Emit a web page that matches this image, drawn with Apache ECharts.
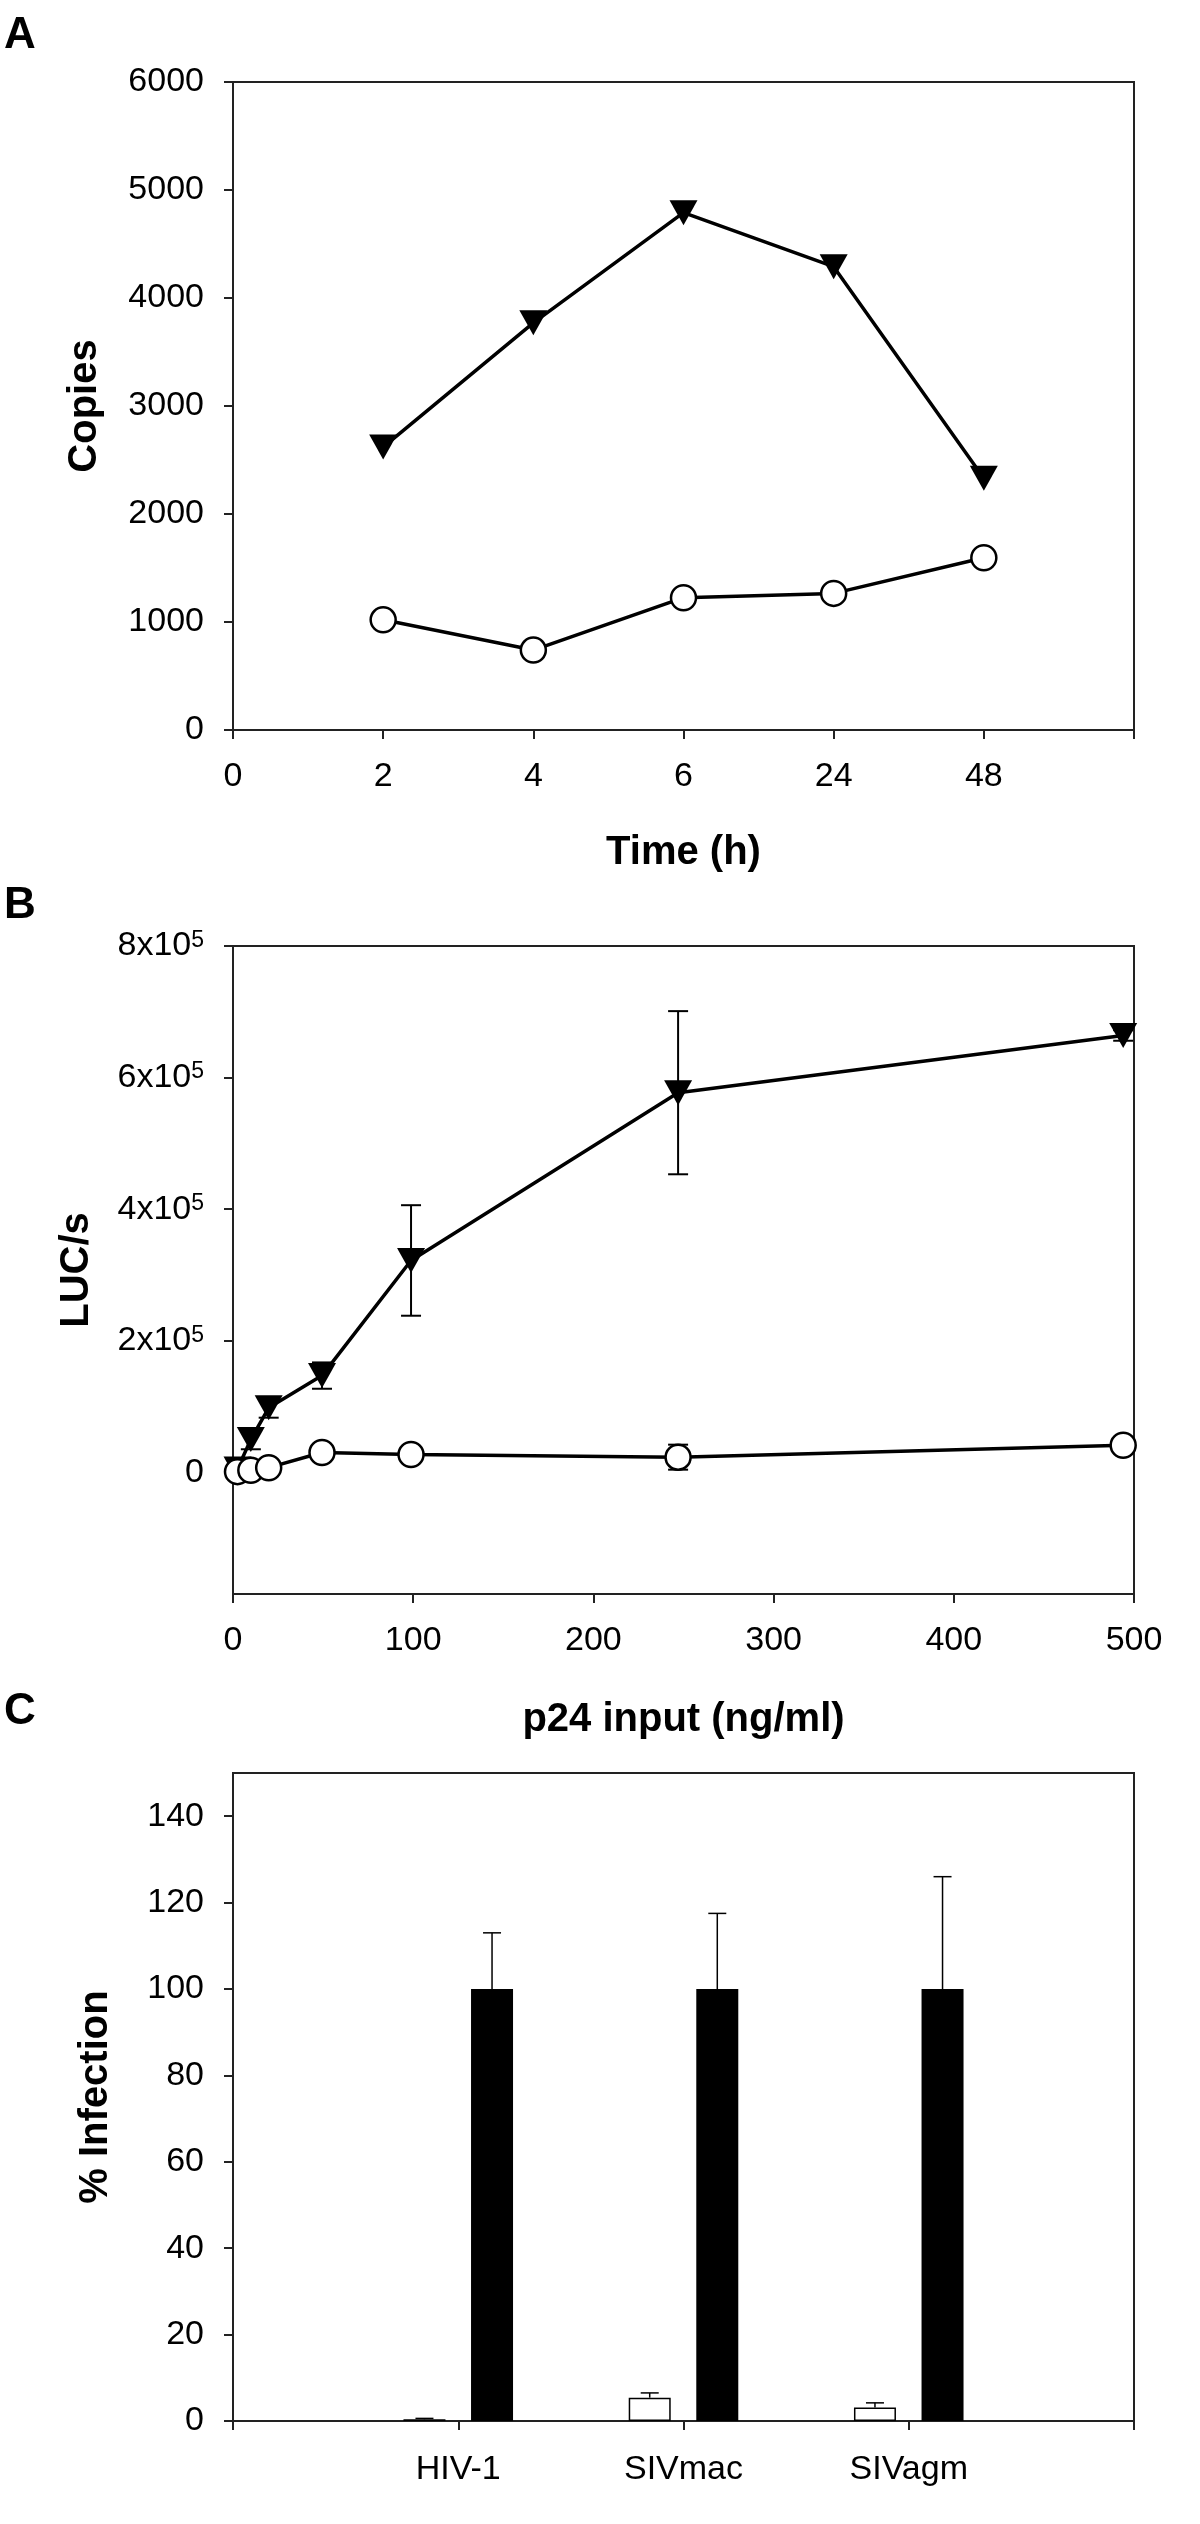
<!DOCTYPE html>
<html><head><meta charset="utf-8">
<script src="https://cdn.jsdelivr.net/npm/echarts@6/dist/echarts.min.js"></script>
<style>html,body{margin:0;padding:0;background:#fff;}#chart{width:1200px;height:2524px;}</style>
</head><body><div id="chart"></div>
<script>
// ---------- Panel A ----------
const timeLabels = ['0', '2', '4', '6', '24', '48', ''];
const timePoints = ['2', '4', '6', '24', '48'];
const copiesTriangle = [2620, 3770, 4790, 4290, 2330];
const copiesCircle = [1020, 740, 1225, 1265, 1595];

// ---------- Panel B ----------
const p24Input = [2.5, 9.9, 19.8, 49.4, 98.8, 247, 494];
const lucTriangle = [5000, 50000, 98000, 147000, 322000, 577000, 664000];
const lucTriangleErr = [3000, 15000, 15000, 20000, 84000, 124000, 8000];
const lucCircle = [1000, 3000, 7000, 30000, 27000, 23000, 41000];
const lucCircleErr = [1000, 2000, 3000, 6000, 4000, 19000, 5000];
const lucTickValues = [0, 200000, 400000, 600000, 800000];
const lucTickLabels = ['0', '2x10^5', '4x10^5', '6x10^5', '8x10^5'];

// ---------- Panel C ----------
const viruses = ['HIV-1', 'SIVmac', 'SIVagm'];
const openInfection = [0.4, 5.4, 3.1];
const openErr = [0.2, 1.1, 1.1];
const filledInfection = [100, 100, 100];
const filledErr = [13, 17.5, 26];
const infectionTicks = [0, 20, 40, 60, 80, 100, 120, 140];

const FONT = "'Liberation Sans', Arial, sans-serif";
const AX = '#222';
const labelStyle = { fontFamily: FONT, fontSize: 34, color: '#000' };
const nameStyle = { fontFamily: FONT, fontSize: 40, fontWeight: 'bold', color: '#000' };
const axisLine = { show: true, onZero: false, lineStyle: { color: AX, width: 2 } };
const axisTick = { show: true, inside: false, length: 9, lineStyle: { color: AX, width: 2 } };
const plain = v => String(v);

function errRender(capHalf, upOnly, lw) {
  return function (params, api) {
    const x = api.value(0), y = api.value(1), e = api.value(2);
    const top = api.coord([x, y + e]);
    const bot = api.coord([x, upOnly ? y : y - e]);
    const st = { stroke: '#000', lineWidth: lw };
    const ch = [
      { type: 'line', shape: { x1: top[0], y1: top[1], x2: bot[0], y2: bot[1] }, style: st },
      { type: 'line', shape: { x1: top[0] - capHalf, y1: top[1], x2: top[0] + capHalf, y2: top[1] }, style: st }
    ];
    if (!upOnly) ch.push({ type: 'line', shape: { x1: bot[0] - capHalf, y1: bot[1], x2: bot[0] + capHalf, y2: bot[1] }, style: st });
    return { type: 'group', children: ch };
  };
}

const triSym = { symbol: 'triangle', symbolRotate: 180, symbolSize: [28, 25], itemStyle: { color: '#000' } };
const cirSym = { symbol: 'circle', symbolSize: 25, itemStyle: { color: '#fff', borderColor: '#000', borderWidth: 2.5 } };
const lineSt = { color: '#000', width: 3.5 };

const barOffset = 0.15;

const option = {
  animation: false,
  backgroundColor: '#fff',
  graphic: [
    { type: 'text', left: 4, top: 14, style: { text: 'A', font: "bold 44px 'Liberation Sans', Arial, sans-serif", fill: '#000' } },
    { type: 'text', left: 4, top: 884, style: { text: 'B', font: "bold 44px 'Liberation Sans', Arial, sans-serif", fill: '#000' } },
    { type: 'text', left: 4, top: 1690, style: { text: 'C', font: "bold 44px 'Liberation Sans', Arial, sans-serif", fill: '#000' } }
  ],
  grid: [
    { left: 233, top: 82, width: 901, height: 648, show: true, borderColor: AX, borderWidth: 2, backgroundColor: 'transparent' },
    { left: 233, top: 946, width: 901, height: 648, show: true, borderColor: AX, borderWidth: 2, backgroundColor: 'transparent' },
    { left: 233, top: 1773, width: 901, height: 648, show: true, borderColor: AX, borderWidth: 2, backgroundColor: 'transparent' }
  ],
  xAxis: [
    { gridIndex: 0, type: 'category', data: timeLabels, boundaryGap: false,
      axisLine, axisTick: Object.assign({ interval: 0 }, axisTick),
      axisLabel: Object.assign({ interval: 0, margin: 30 }, labelStyle), splitLine: { show: false },
      name: 'Time (h)', nameLocation: 'middle', nameGap: 103, nameTextStyle: nameStyle },
    { gridIndex: 1, type: 'value', min: 0, max: 500, interval: 100,
      axisLine, axisTick, axisLabel: Object.assign({ margin: 30, formatter: plain }, labelStyle), splitLine: { show: false },
      name: 'p24 input (ng/ml)', nameLocation: 'middle', nameGap: 106, nameTextStyle: nameStyle },
    { gridIndex: 2, type: 'value', min: 0, max: 4, interval: 1,
      axisLine, axisTick,
      axisLabel: Object.assign({ margin: 32, formatter: v => (v >= 1 && v <= viruses.length && Number.isInteger(v)) ? viruses[v - 1] : '' }, labelStyle),
      splitLine: { show: false } }
  ],
  yAxis: [
    { gridIndex: 0, type: 'value', min: 0, max: 6000, interval: 1000,
      axisLine, axisTick, axisLabel: Object.assign({ margin: 29, formatter: plain }, labelStyle), splitLine: { show: false },
      name: 'Copies', nameLocation: 'middle', nameGap: 128, nameTextStyle: nameStyle },
    { gridIndex: 1, type: 'value', min: -185000, max: 800000,
      axisLine,
      axisTick: Object.assign({ customValues: lucTickValues }, axisTick),
      axisLabel: Object.assign({ margin: 29, customValues: lucTickValues,
        formatter: function (v) {
          const i = lucTickValues.indexOf(v);
          if (i < 0) return '';
          const s = lucTickLabels[i];
          if (s.indexOf('^') < 0) return s;
          const p = s.split('^');
          return '{b|' + p[0] + '}{s|' + p[1] + '}';
        },
        rich: { b: { fontFamily: FONT, fontSize: 34, color: '#000' }, s: { fontFamily: FONT, fontSize: 23, color: '#000', verticalAlign: 'top' } }
      }, labelStyle),
      splitLine: { show: false },
      name: 'LUC/s', nameLocation: 'middle', nameGap: 136, nameTextStyle: nameStyle },
    { gridIndex: 2, type: 'value', min: 0, max: 150,
      axisLine,
      axisTick: Object.assign({ customValues: infectionTicks }, axisTick),
      axisLabel: Object.assign({ margin: 29, customValues: infectionTicks, formatter: plain }, labelStyle),
      splitLine: { show: false },
      name: '% Infection', nameLocation: 'middle', nameGap: 117, nameTextStyle: nameStyle }
  ],
  series: [
    // Panel A
    Object.assign({ type: 'line', xAxisIndex: 0, yAxisIndex: 0, lineStyle: lineSt, z: 3,
      data: timePoints.map((t, i) => [t, copiesTriangle[i]]) }, triSym),
    Object.assign({ type: 'line', xAxisIndex: 0, yAxisIndex: 0, lineStyle: lineSt, z: 3,
      data: timePoints.map((t, i) => [t, copiesCircle[i]]) }, cirSym),
    // Panel B error bars
    { type: 'custom', xAxisIndex: 1, yAxisIndex: 1, z: 2, renderItem: errRender(10, false, 2),
      encode: { x: 0, y: 1 }, data: p24Input.map((x, i) => [x, lucTriangle[i], lucTriangleErr[i]]) },
    { type: 'custom', xAxisIndex: 1, yAxisIndex: 1, z: 2, renderItem: errRender(10, false, 2),
      encode: { x: 0, y: 1 }, data: p24Input.map((x, i) => [x, lucCircle[i], lucCircleErr[i]]) },
    Object.assign({ type: 'line', xAxisIndex: 1, yAxisIndex: 1, lineStyle: lineSt, z: 3,
      data: p24Input.map((x, i) => [x, lucTriangle[i]]) }, triSym),
    Object.assign({ type: 'line', xAxisIndex: 1, yAxisIndex: 1, lineStyle: lineSt, z: 4,
      data: p24Input.map((x, i) => [x, lucCircle[i]]) }, cirSym),
    // Panel C bars
    { type: 'bar', xAxisIndex: 2, yAxisIndex: 2, barWidth: 42, barGap: '-100%', z: 3,
      itemStyle: { color: '#fff', borderColor: '#000', borderWidth: 1.5 },
      data: viruses.map((v, i) => [i + 1 - barOffset, openInfection[i]]) },
    { type: 'bar', xAxisIndex: 2, yAxisIndex: 2, barWidth: 42, barGap: '-100%', z: 3,
      itemStyle: { color: '#000' },
      data: viruses.map((v, i) => [i + 1 + barOffset, filledInfection[i]]) },
    { type: 'custom', xAxisIndex: 2, yAxisIndex: 2, z: 2, renderItem: errRender(9, true, 1.5),
      encode: { x: 0, y: 1 }, data: viruses.map((v, i) => [i + 1 - barOffset, openInfection[i], openErr[i]]) },
    { type: 'custom', xAxisIndex: 2, yAxisIndex: 2, z: 2, renderItem: errRender(9, true, 1.5),
      encode: { x: 0, y: 1 }, data: viruses.map((v, i) => [i + 1 + barOffset, filledInfection[i], filledErr[i]]) }
  ]
};

const chart = echarts.init(document.getElementById('chart'), null, { renderer: 'canvas' });
chart.setOption(option);
</script></body></html>
